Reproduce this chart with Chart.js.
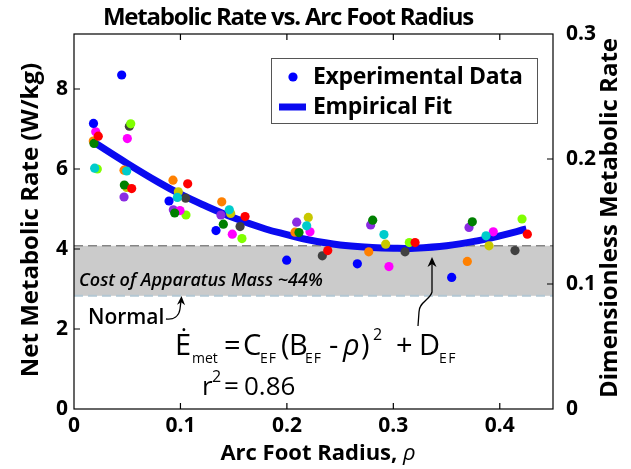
<!DOCTYPE html>
<html>
<head>
<meta charset="utf-8">
<script src="https://cdn.jsdelivr.net/npm/chart.js@4/dist/chart.umd.min.js"></script>
<style>
  html, body { margin: 0; padding: 0; background: #ffffff; }
  #wrap { width: 631px; height: 469px; }
</style>
</head>
<body>
<div id="wrap"><canvas id="chart" width="631" height="469"></canvas></div>
<script>
// Arc foot radius (rho) vs. net metabolic rate (W/kg), one array per subject
const subjectBlue    = [[0.0448, 8.35], [0.0183, 7.14], [0.0893, 5.20], [0.1334, 4.46], [0.1998, 3.72], [0.2662, 3.63], [0.3548, 3.29]];
const subjectRed     = [[0.0228, 6.82], [0.0542, 5.51], [0.1068, 5.63], [0.1607, 4.81], [0.2384, 3.96], [0.3204, 4.16], [0.4259, 4.37]];
const subjectGreen   = [[0.0188, 6.64], [0.0473, 5.60], [0.0946, 4.90], [0.1403, 4.62], [0.2114, 4.41], [0.2806, 4.72], [0.3742, 4.68]];
const subjectCyan    = [[0.0194, 6.02], [0.0495, 5.95], [0.0971, 5.29], [0.1459, 4.98], [0.2186, 4.58], [0.2912, 4.36], [0.3871, 4.33]];
const subjectMagenta = [[0.0204, 6.93], [0.0501, 6.76], [0.0996, 4.96], [0.1487, 4.37], [0.2217, 4.43], [0.2959, 3.56], [0.3939, 4.43]];
const subjectOrange  = [[0.0181, 6.70], [0.0470, 5.97], [0.0930, 5.72], [0.1388, 5.18], [0.2076, 4.42], [0.2769, 3.93], [0.3695, 3.69]];
const subjectPurple  = [[0.0470, 5.30], [0.0933, 4.98], [0.1380, 4.85], [0.2092, 4.67], [0.2787, 4.60], [0.3711, 4.54]];
const subjectOlive   = [[0.0495, 5.54], [0.0980, 5.43], [0.1472, 4.89], [0.2201, 4.79], [0.2928, 4.12], [0.3899, 4.08]];
const subjectLime    = [[0.0219, 6.00], [0.0533, 7.13], [0.1052, 4.85], [0.1578, 4.26], [0.3150, 4.16], [0.4209, 4.75]];
const subjectGray    = [[0.0520, 7.07], [0.1049, 5.27], [0.1560, 4.56], [0.2333, 3.83], [0.3110, 3.93], [0.4143, 3.96]];

// Empirical quadratic fit, sampled along rho
const fitRho  = [0.018, 0.05, 0.08, 0.10, 0.12, 0.15, 0.18, 0.20, 0.22, 0.25, 0.28, 0.30, 0.32, 0.35, 0.38, 0.40, 0.425];
const fitRate = [6.68, 6.14, 5.66, 5.37, 5.12, 4.78, 4.50, 4.36, 4.23, 4.10, 4.04, 4.02, 4.02, 4.08, 4.21, 4.33, 4.50];

// Added cost of carrying the apparatus (net metabolic rate, W/kg)
const apparatusLow = 2.83;
const apparatusHigh = 4.08;

// Axis ranges and tick steps
const rhoMax = 0.45, rhoStep = 0.1;
const rateMax = 9.375, rateStep = 2;
const dimMax = 0.3, dimStep = 0.1;

const subjects = [
  { pts: subjectBlue,    color: '#0000ff', label: 'Experimental Data' },
  { pts: subjectRed,     color: '#ff0000' },
  { pts: subjectGreen,   color: '#008000' },
  { pts: subjectCyan,    color: '#00cccc' },
  { pts: subjectMagenta, color: '#ff00ff' },
  { pts: subjectOrange,  color: '#ff8000' },
  { pts: subjectPurple,  color: '#8a2be2' },
  { pts: subjectOlive,   color: '#c8c800' },
  { pts: subjectLime,    color: '#80ff00' },
  { pts: subjectGray,    color: '#404040' }
];

const FONT = '"Open Sans", "DejaVu Sans", sans-serif';
const FIT_COLOR = '#0a0af0';

const datasets = subjects.map((s, i) => ({
  type: 'scatter',
  label: s.label || ('Subject ' + (i + 1)),
  data: s.pts.map(p => ({ x: p[0], y: p[1] })),
  backgroundColor: s.color,
  borderColor: s.color,
  borderWidth: 0,
  pointRadius: 4.6,
  yAxisID: 'y'
}));
datasets.push({
  type: 'line',
  label: 'Empirical Fit',
  data: fitRho.map((r, i) => ({ x: r, y: fitRate[i] })),
  borderColor: FIT_COLOR,
  borderWidth: 7,
  pointRadius: 0,
  tension: 0.4,
  fill: false,
  yAxisID: 'y'
});

function fmt(v) { return v === 0 ? '0' : v.toFixed(1); }

// Draws text pieces, each at its own x, font, spacing and vertical offset
function placedText(ctx, y, pieces) {
  ctx.textBaseline = 'alphabetic';
  ctx.textAlign = 'left';
  for (const p of pieces) {
    ctx.font = p.font;
    ctx.letterSpacing = p.ls || '0px';
    ctx.fillText(p.t, p.x, y + (p.dy || 0));
  }
  ctx.letterSpacing = '0px';
}

function arrowHead(ctx, x, y, angle, size) {
  ctx.save();
  ctx.translate(x, y);
  ctx.rotate(angle);
  ctx.beginPath();
  ctx.moveTo(0, 0);
  ctx.lineTo(-size, -size * 0.45);
  ctx.lineTo(-size * 0.7, 0);
  ctx.lineTo(-size, size * 0.45);
  ctx.closePath();
  ctx.fill();
  ctx.restore();
}

const bandPlugin = {
  id: 'apparatusBand',
  beforeDatasetsDraw(chart) {
    const { ctx, chartArea: a, scales } = chart;
    const yTop = scales.y.getPixelForValue(apparatusHigh);
    const yBot = scales.y.getPixelForValue(apparatusLow);
    ctx.save();
    ctx.fillStyle = '#cbcbcb';
    ctx.fillRect(a.left, yTop, a.right - a.left, yBot - yTop);
    ctx.lineWidth = 1.5;
    ctx.setLineDash([9, 5]);
    ctx.strokeStyle = '#858585';
    ctx.beginPath(); ctx.moveTo(a.left, yTop); ctx.lineTo(a.right, yTop); ctx.stroke();
    ctx.lineWidth = 2;
    ctx.strokeStyle = '#b3c7d3';
    ctx.beginPath(); ctx.moveTo(a.left, yBot); ctx.lineTo(a.right, yBot); ctx.stroke();
    ctx.setLineDash([]);
    ctx.fillStyle = '#000';
    ctx.font = 'italic 600 18px ' + FONT;
    ctx.textBaseline = 'middle';
    ctx.fillText('Cost of Apparatus Mass ~44%', a.left + 5, (yTop + yBot) / 2 + 10);
    ctx.restore();
  }
};

const framePlugin = {
  id: 'frameAndText',
  afterDraw(chart) {
    const { ctx, chartArea: a, scales } = chart;
    ctx.save();
    // frame
    ctx.strokeStyle = '#000';
    ctx.lineWidth = 1.2;
    ctx.strokeRect(a.left, a.top, a.right - a.left, a.bottom - a.top);
    // inward ticks
    const tl = 6;
    ctx.beginPath();
    scales.x.ticks.forEach(t => {
      if (t.value === 0) return;
      const px = scales.x.getPixelForValue(t.value);
      ctx.moveTo(px, a.bottom); ctx.lineTo(px, a.bottom - tl);
      ctx.moveTo(px, a.top); ctx.lineTo(px, a.top + tl);
    });
    scales.y.ticks.forEach(t => {
      if (t.value === 0) return;
      const py = scales.y.getPixelForValue(t.value);
      ctx.moveTo(a.left, py); ctx.lineTo(a.left + tl, py);
    });
    scales.y2.ticks.forEach(t => {
      if (t.value === 0 || t.value >= dimMax) return;
      const py = scales.y2.getPixelForValue(t.value);
      ctx.moveTo(a.right, py); ctx.lineTo(a.right - tl, py);
    });
    ctx.stroke();

    ctx.fillStyle = '#000';
    // chart title
    ctx.textAlign = 'center';
    ctx.textBaseline = 'middle';
    ctx.font = '700 24px ' + FONT;
    ctx.letterSpacing = '-1.2px';
    ctx.fillText('Metabolic Rate vs. Arc Foot Radius', 288, 18);
    ctx.letterSpacing = '0px';

    // axis titles
    ctx.font = '700 24px ' + FONT;
    ctx.save();
    ctx.translate(31, 220);
    ctx.rotate(-Math.PI / 2);
    ctx.fillText('Net Metabolic Rate (W/kg)', 0, 0);
    ctx.restore();
    ctx.save();
    ctx.translate(610, 218);
    ctx.rotate(-Math.PI / 2);
    ctx.fillText('Dimensionless Metabolic Rate', 0, 0);
    ctx.restore();

    // x title with italic rho
    const xt1 = 'Arc Foot Radius, ';
    ctx.font = '700 22px ' + FONT;
    const w1 = ctx.measureText(xt1).width;
    ctx.font = 'italic 22px ' + FONT;
    const w2 = ctx.measureText('ρ').width;
    const xs = 318 - (w1 + w2) / 2;
    placedText(ctx, 460, [
      { t: xt1, x: xs, font: '700 22px ' + FONT },
      { t: 'ρ', x: xs + w1, font: 'italic 22px ' + FONT }
    ]);

    // legend
    const lx = 271, ly = 58, lw = 266, lh = 65;
    ctx.fillStyle = '#fff';
    ctx.fillRect(lx, ly, lw, lh);
    ctx.strokeStyle = '#555';
    ctx.lineWidth = 1;
    ctx.strokeRect(lx + 0.5, ly + 0.5, lw, lh);
    ctx.fillStyle = subjects[0].color;
    ctx.beginPath(); ctx.arc(293, 77, 4.6, 0, Math.PI * 2); ctx.fill();
    ctx.strokeStyle = FIT_COLOR;
    ctx.lineWidth = 7;
    ctx.beginPath(); ctx.moveTo(279, 107); ctx.lineTo(306, 107); ctx.stroke();
    ctx.fillStyle = '#000';
    ctx.font = '700 23px ' + FONT;
    ctx.letterSpacing = '-0.3px';
    ctx.textAlign = 'left';
    ctx.textBaseline = 'middle';
    ctx.fillText(datasets[0].label, 313, 77);
    ctx.fillText(datasets[datasets.length - 1].label, 313, 107);
    ctx.letterSpacing = '0px';

    // "Normal" note with its arrow
    ctx.font = '600 21px ' + FONT;
    ctx.fillText('Normal', 88, 318);
    ctx.strokeStyle = '#000';
    ctx.lineWidth = 1.3;
    ctx.beginPath();
    ctx.moveTo(166, 319);
    ctx.bezierCurveTo(174, 320, 179, 316, 180, 309);
    ctx.lineTo(181, 301);
    ctx.stroke();
    arrowHead(ctx, 181.5, 296, -Math.PI / 2 + 0.05, 9);

    // arrow pointing at the fit minimum
    ctx.beginPath();
    ctx.moveTo(418, 326);
    ctx.lineTo(419, 312);
    ctx.bezierCurveTo(419, 302, 430, 300, 432, 292);
    ctx.lineTo(432, 263);
    ctx.stroke();
    arrowHead(ctx, 432, 257, -Math.PI / 2, 10);

    // fit equation
    const big = '500 29px ' + FONT, sub = '500 14px ' + FONT, sup = '500 16px ' + FONT;
    placedText(ctx, 355, [
      { t: 'Ė', x: 175, font: big },
      { t: 'met', x: 192, font: sub, dy: 8 },
      { t: '=', x: 224, font: big },
      { t: 'C', x: 243, font: big },
      { t: 'EF', x: 260, font: sub, dy: 8, ls: '1px' },
      { t: '(', x: 281, font: big },
      { t: 'B', x: 289, font: big },
      { t: 'EF', x: 305, font: sub, dy: 8, ls: '1px' },
      { t: '-', x: 329, font: big },
      { t: 'ρ', x: 343, font: 'italic 29px ' + FONT },
      { t: ')', x: 361, font: big },
      { t: '2', x: 373, font: sup, dy: -15 },
      { t: '+', x: 396, font: big },
      { t: 'D', x: 419, font: big },
      { t: 'EF', x: 439, font: sub, dy: 8, ls: '1.5px' }
    ]);
    placedText(ctx, 395, [
      { t: 'r', x: 202, font: '500 26px ' + FONT },
      { t: '2', x: 212, font: sup, dy: -13 },
      { t: '=', x: 224, font: '500 26px ' + FONT },
      { t: '0.86', x: 244, font: '500 26px ' + FONT }
    ]);
    ctx.restore();
  }
};

const tickFont = { family: FONT, size: 21, weight: '700' };

new Chart(document.getElementById('chart'), {
  data: { datasets },
  options: {
    responsive: false,
    animation: false,
    devicePixelRatio: 1,
    layout: { padding: { top: 34, right: 0, bottom: 0, left: 0 } },
    plugins: {
      legend: { display: false },
      tooltip: { enabled: false },
      title: { display: false }
    },
    scales: {
      x: {
        type: 'linear', position: 'bottom', min: 0, max: rhoMax,
        afterFit(s) { s.height = 60; },
        grid: { display: false, drawTicks: false },
        border: { display: false },
        ticks: { stepSize: rhoStep, includeBounds: false, padding: 4, color: '#000', font: tickFont, maxRotation: 0, autoSkip: false, callback: fmt }
      },
      y: {
        type: 'linear', position: 'left', min: 0, max: rateMax,
        afterFit(s) { s.width = 74; },
        grid: { display: false, drawTicks: false },
        border: { display: false },
        ticks: { stepSize: rateStep, includeBounds: false, padding: 6, color: '#000', font: tickFont, callback: v => String(v) }
      },
      y2: {
        type: 'linear', position: 'right', min: 0, max: dimMax,
        afterFit(s) { s.width = 78; },
        grid: { display: false, drawTicks: false },
        border: { display: false },
        ticks: { stepSize: dimStep, includeBounds: false, padding: 13, color: '#000', font: tickFont, callback: fmt }
      }
    }
  },
  plugins: [bandPlugin, framePlugin]
});
</script>
</body>
</html>
